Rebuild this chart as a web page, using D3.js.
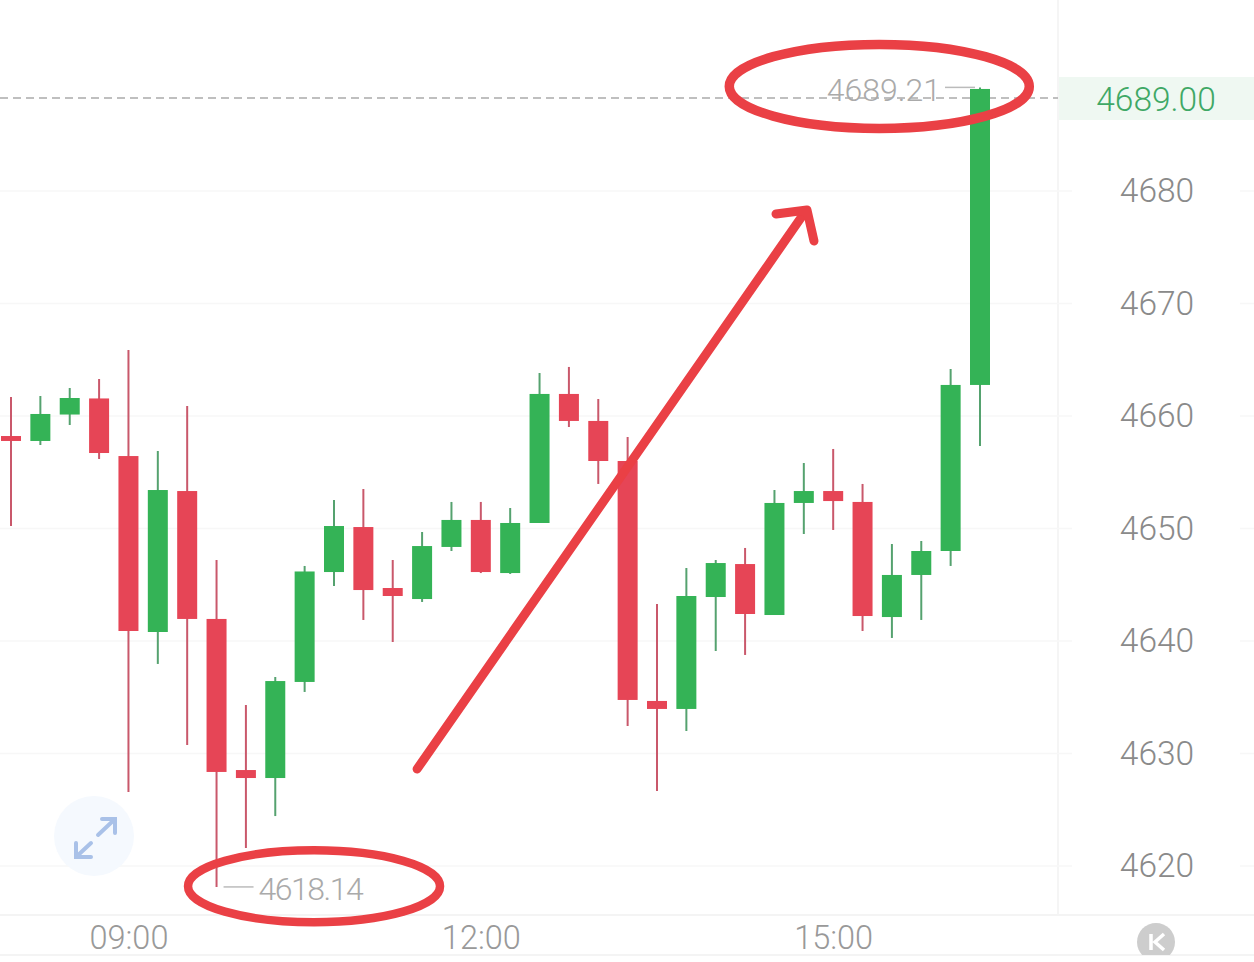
<!DOCTYPE html>
<html>
<head>
  <meta charset="utf-8">
  <script src="https://d3js.org/d3.v7.min.js"></script>
  <style>
    html, body { margin: 0; padding: 0; background: #fff; }
    svg { display: block; }
    text { font-family: Roboto, "Open Sans", sans-serif; font-weight: 300; }
  </style>
</head>
<body>
<script type="text/javascript">
// candle values, one entry per 15 minute bar
var opens  = [4658.22,4657.78,4660.13,4661.56,4656.44,4640.80,4653.33,4641.96,4628.53,4627.82,4636.36,4646.13,4650.13,4644.71,4643.73,4648.36,4650.76,4646.04,4650.49,4661.96,4659.56,4656.00,4634.67,4633.96,4643.91,4646.84,4642.31,4652.27,4653.33,4652.36,4642.13,4645.87,4648.00,4662.76];
var highs  = [4661.69,4661.78,4662.49,4663.29,4665.87,4656.89,4660.89,4647.20,4634.31,4636.80,4646.67,4652.53,4653.51,4647.20,4649.69,4652.36,4652.36,4651.82,4663.82,4664.36,4661.51,4658.13,4643.29,4646.49,4647.20,4648.27,4653.42,4655.82,4657.07,4653.96,4648.62,4648.89,4664.18,4689.21];
var lows   = [4650.22,4657.42,4659.20,4656.18,4626.58,4637.96,4630.76,4618.14,4621.60,4624.44,4635.47,4644.89,4641.87,4639.91,4643.47,4648.00,4646.04,4645.96,4650.49,4659.02,4653.96,4632.44,4626.67,4632.00,4639.11,4638.76,4642.31,4649.51,4649.87,4640.89,4640.27,4641.87,4646.67,4657.33];
var closes = [4657.78,4660.18,4661.60,4656.71,4640.89,4653.42,4641.96,4628.36,4627.82,4636.44,4646.18,4650.22,4644.53,4644.00,4648.44,4650.76,4646.13,4650.49,4661.96,4659.56,4656.00,4634.76,4633.96,4644.00,4646.93,4642.40,4652.27,4653.33,4652.44,4642.22,4645.87,4648.00,4662.76,4689.07];

var priceTicks = [4680,4670,4660,4650,4640,4630,4620];
var timeIndex = [4,16,28];
var timeLabels = ["09:00","12:00","15:00"];

var lastLabel = "4689.00";
var lastLine = 4688.27;   // the dashed line sits a little under its label value in the picture
var highLabel = "4689.21", lowLabel = "4618.14";
var highIndex = 33, lowIndex = 7;

// hand drawn marks, in bar index / price
var arrowStart = [13.83, 4628.62], arrowEnd = [27.04, 4678.13];
var topRing = [29.57, 4689.3], bottomRing = [10.32, 4618.2];

var width = 1254, height = 962;
var plotRight = 1058, axisTop = 915, axisBottom = 955;

var red = "#e64556", green = "#34b356", redWick = "#c9586b", greenWick = "#55a26f";
var markRed = "#ea4045";

var x = d3.scaleLinear().domain([0, 33]).range([11, 980]);
var y = d3.scaleLinear().domain([4620, 4680]).range([866, 191]);

var svg = d3.select("body").append("svg").attr("width", width).attr("height", height);

// panel lines
svg.append("line").attr("x1", plotRight).attr("x2", plotRight).attr("y1", 0).attr("y2", axisTop)
  .attr("stroke", "#f5f5f5").attr("stroke-width", 2);
[axisTop, axisBottom].forEach(function(p) {
  svg.append("line").attr("x1", 0).attr("x2", width).attr("y1", p).attr("y2", p)
    .attr("stroke", "#f4f4f4").attr("stroke-width", 2);
});

// gridlines, broken around the price labels
var grid = svg.append("g");
grid.selectAll(".a").data(priceTicks).enter().append("line").attr("class", "a")
  .attr("x1", 0).attr("x2", 1072).attr("y1", y).attr("y2", y)
  .attr("stroke", "#f7f7f7").attr("stroke-width", 1.5);
grid.selectAll(".b").data(priceTicks).enter().append("line").attr("class", "b")
  .attr("x1", 1240).attr("x2", width).attr("y1", y).attr("y2", y)
  .attr("stroke", "#f7f7f7").attr("stroke-width", 1.5);

// price tag band behind the last price
svg.append("rect").attr("x", plotRight + 1).attr("y", y(lastLine) - 21).attr("width", width - plotRight).attr("height", 43)
  .attr("fill", "#eff8f2");

// axes
var yAxis = svg.append("g").attr("transform", "translate(1157,0)")
  .call(d3.axisRight(y).tickValues(priceTicks).tickSize(0).tickPadding(0).tickFormat(d3.format("d")));
yAxis.select(".domain").remove();
yAxis.selectAll("text").attr("x", 0).attr("text-anchor", "middle")
  .style("font-size", "33.5px").style("font-family", null).attr("fill", "#8a8a8a");

var xAxis = svg.append("g").attr("transform", "translate(0,937)")
  .call(d3.axisBottom(x).tickValues(timeIndex).tickSize(0).tickPadding(0)
    .tickFormat(function(d, i) { return timeLabels[i]; }));
xAxis.select(".domain").remove();
xAxis.selectAll("text").attr("y", 0).attr("dy", "0.36em")
  .style("font-size", "32.5px").attr("fill", "#999");

// expand button
var btn = svg.append("g").attr("transform", "translate(94,836)");
btn.append("circle").attr("r", 40).attr("fill", "#f5f9fe");
["M4,-1L21,-17", "M8,-17H21V-3", "M-18,21L-3,7", "M-18,7V21H-3"].forEach(function(d) {
  btn.append("path").attr("d", d).attr("fill", "none").attr("stroke", "#a9c1e8").attr("stroke-width", 4).attr("stroke-linecap", "round");
});

// K badge, cut by the bottom of the window strip
svg.append("clipPath").attr("id", "kclip").append("rect").attr("x", 1100).attr("y", 900).attr("width", 120).attr("height", axisBottom - 900);
var badge = svg.append("g").attr("clip-path", "url(#kclip)");
badge.append("circle").attr("cx", 1156).attr("cy", 942).attr("r", 19).attr("fill", "#cdcdcd");
badge.append("path").attr("d", "M1151,934V950M1164,934L1155,942L1164,950").attr("fill", "none")
  .attr("stroke", "#fff").attr("stroke-width", 3.5);

// last price dashed line
svg.append("line").attr("x1", 0).attr("x2", plotRight).attr("y1", y(lastLine)).attr("y2", y(lastLine))
  .attr("stroke", "#aaa").attr("stroke-width", 1.5).attr("stroke-dasharray", "8,5");

svg.append("text").attr("x", 1156).attr("y", y(lastLine) + 1).attr("dy", "0.36em").attr("text-anchor", "middle")
  .style("font-size", "33.5px").attr("fill", "#3fa866").text(lastLabel);

// candles
var candles = svg.append("g").selectAll("g").data(d3.range(opens.length)).enter().append("g");
candles.append("line")
  .attr("x1", function(i) { return x(i); }).attr("x2", function(i) { return x(i); })
  .attr("y1", function(i) { return y(highs[i]); }).attr("y2", function(i) { return y(lows[i]); })
  .attr("stroke", function(i) { return closes[i] >= opens[i] ? greenWick : redWick; })
  .attr("stroke-width", 2);
candles.append("rect")
  .attr("x", function(i) { return x(i) - 10; }).attr("width", 20)
  .attr("y", function(i) { return y(Math.max(opens[i], closes[i])); })
  .attr("height", function(i) { return Math.abs(y(opens[i]) - y(closes[i])); })
  .attr("fill", function(i) { return closes[i] >= opens[i] ? green : red; });

// high and low callouts
svg.append("line").attr("x1", x(highIndex) - 35).attr("x2", x(highIndex) - 5)
  .attr("y1", y(highs[highIndex])).attr("y2", y(highs[highIndex])).attr("stroke", "#bbb").attr("stroke-width", 1.5);
svg.append("text").attr("x", x(highIndex) - 39).attr("y", y(highs[highIndex]) + 2).attr("dy", "0.36em").attr("text-anchor", "end")
  .style("font-size", "32px").attr("fill", "#aaa").text(highLabel);
svg.append("line").attr("x1", x(lowIndex) + 7).attr("x2", x(lowIndex) + 37)
  .attr("y1", y(lows[lowIndex])).attr("y2", y(lows[lowIndex])).attr("stroke", "#bbb").attr("stroke-width", 1.5);
svg.append("text").attr("x", x(lowIndex) + 42).attr("y", y(lows[lowIndex]) + 2).attr("dy", "0.36em")
  .style("font-size", "32px").style("letter-spacing", "-1.5px").attr("fill", "#aaa").text(lowLabel);

// red pen marks on top of everything
svg.append("ellipse").attr("cx", x(topRing[0])).attr("cy", y(topRing[1])).attr("rx", 150).attr("ry", 42)
  .attr("fill", "none").attr("stroke", markRed).attr("stroke-width", 9.5);
svg.append("ellipse").attr("cx", x(bottomRing[0])).attr("cy", y(bottomRing[1])).attr("rx", 126).attr("ry", 36)
  .attr("fill", "none").attr("stroke", markRed).attr("stroke-width", 8.5);

var tipX = x(arrowEnd[0]), tipY = y(arrowEnd[1]);
svg.append("path")
  .attr("d", d3.line()([[x(arrowStart[0]), y(arrowStart[1])], [tipX, tipY]]))
  .attr("fill", "none").attr("stroke", markRed).attr("stroke-width", 9).attr("stroke-linecap", "round");
svg.append("path")
  .attr("d", d3.line()([[tipX - 29, tipY + 2], [tipX + 2, tipY - 2], [tipX + 9, tipY + 29]]))
  .attr("fill", "none").attr("stroke", markRed).attr("stroke-width", 9).attr("stroke-linecap", "round").attr("stroke-linejoin", "round");
</script>
</body>
</html>
